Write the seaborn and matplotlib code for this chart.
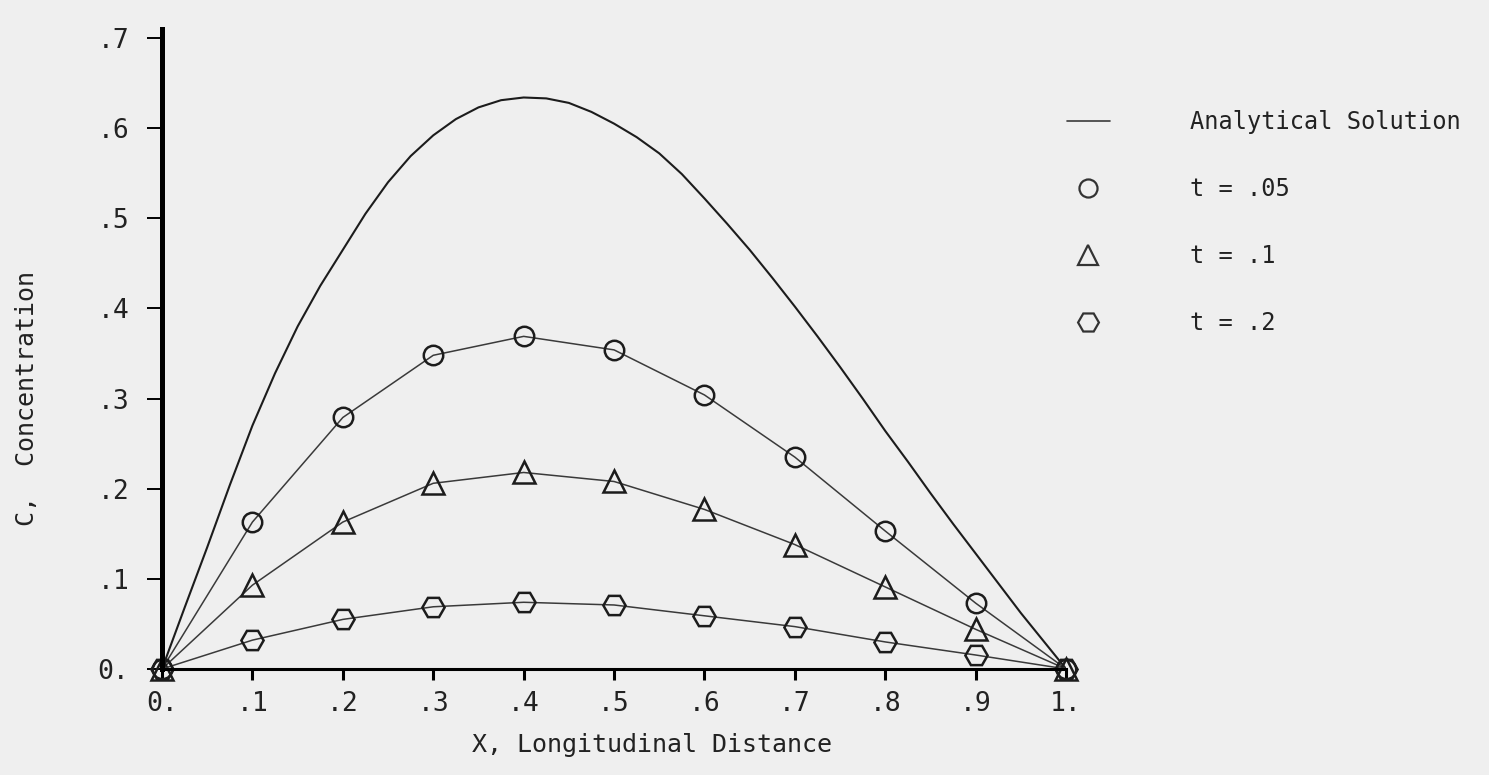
import matplotlib
matplotlib.use("Agg")
import matplotlib.pyplot as plt
from matplotlib.lines import Line2D
import seaborn as sns

# ---- data ----
x_top = [0, 0.025, 0.05, 0.075, 0.1, 0.125, 0.15, 0.175, 0.2, 0.225, 0.25, 0.275,
         0.3, 0.325, 0.35, 0.375, 0.4, 0.425, 0.45, 0.475, 0.5, 0.525, 0.55, 0.575,
         0.6, 0.625, 0.65, 0.675, 0.7, 0.725, 0.75, 0.775, 0.8, 0.825, 0.85, 0.875,
         0.9, 0.925, 0.95, 0.975, 1.0]
c_top = [0, 0.068, 0.135, 0.204, 0.27, 0.328, 0.38, 0.425, 0.465, 0.505, 0.54, 0.569,
         0.592, 0.61, 0.623, 0.631, 0.634, 0.633, 0.628, 0.618, 0.605, 0.59, 0.572, 0.549,
         0.522, 0.494, 0.465, 0.434, 0.402, 0.369, 0.335, 0.3, 0.264, 0.23, 0.195, 0.161,
         0.128, 0.095, 0.062, 0.031, 0.0]

x_pts = [0, 0.1, 0.2, 0.3, 0.4, 0.5, 0.6, 0.7, 0.8, 0.9, 1.0]
c_t005 = [0, 0.163, 0.279, 0.348, 0.369, 0.354, 0.304, 0.235, 0.153, 0.073, 0.0]
c_t01 = [0, 0.093, 0.163, 0.206, 0.218, 0.208, 0.177, 0.138, 0.091, 0.044, 0.0]
c_t02 = [0, 0.032, 0.055, 0.069, 0.074, 0.071, 0.059, 0.047, 0.030, 0.0155, 0.0]

x_ticks = [0, 0.1, 0.2, 0.3, 0.4, 0.5, 0.6, 0.7, 0.8, 0.9, 1.0]
x_ticklabels = ["0.", ".1", ".2", ".3", ".4", ".5", ".6", ".7", ".8", ".9", "1."]
y_ticks = [0, 0.1, 0.2, 0.3, 0.4, 0.5, 0.6, 0.7]
y_ticklabels = ["0.", ".1", ".2", ".3", ".4", ".5", ".6", ".7"]

series_labels = ["t = .05", "t = .1", "t = .2"]
series_markers = ["o", "^", "H"]
series_sizes = [14, 16, 16]

# ---- style ----
sns.set_theme(style="white")
BG = "#efefef"
INK = "#1c1c1c"
LINE = "#3a3a3a"
MONO = ["DejaVu Sans Mono"]
NARROW = ["Liberation Sans Narrow", "DejaVu Sans Mono"]
plt.rcParams["font.family"] = MONO

fig = plt.figure(figsize=(14.89, 7.75), dpi=100, facecolor=BG)
ax = fig.add_axes([0.1088, 0.1368, 0.6072, 0.8258])
ax.set_facecolor(BG)

sns.lineplot(x=x_top, y=c_top, ax=ax, color=INK, lw=1.5, sort=True, legend=False)
for vals, m, ms in zip([c_t005, c_t01, c_t02], series_markers, series_sizes):
    sns.lineplot(x=x_pts, y=vals, ax=ax, color=LINE, lw=1.1, marker=m,
                 markersize=ms, markerfacecolor="none", markeredgecolor=INK,
                 markeredgewidth=1.8, legend=False, clip_on=False)

ax.set_xlim(0, 1.0)
ax.set_ylim(0, 0.71)
ax.set_xticks(x_ticks)
ax.set_xticklabels(x_ticklabels, family=NARROW)
ax.set_yticks(y_ticks)
ax.set_yticklabels(y_ticklabels, family=NARROW)

for s in ["top", "right"]:
    ax.spines[s].set_visible(False)
ax.spines["left"].set_linewidth(3.6)
ax.spines["bottom"].set_linewidth(2.2)
ax.spines["left"].set_color("black")
ax.spines["bottom"].set_color("black")

ax.tick_params(axis="x", direction="out", length=8, width=2.2, pad=8,
               labelsize=19, colors="black", labelcolor="#222222", bottom=True)
ax.tick_params(axis="y", direction="out", length=10.5, width=1.4, pad=13,
               labelsize=19, colors="black", labelcolor="#222222", left=True)

ax.set_xlabel("X, Longitudinal Distance", fontsize=18, color="#222222", va="center")
ax.xaxis.set_label_coords(0.542, -0.119)
ax.set_ylabel("C,  Concentration", fontsize=18, color="#222222", va="center")
ax.yaxis.set_label_coords(-0.149, 0.423)

handles = [Line2D([], [], color=LINE, lw=1.2)]
for m, ms in zip(series_markers, series_sizes):
    handles.append(Line2D([], [], ls="none", marker=m, markersize=ms - 1,
                          markerfacecolor="none", markeredgecolor="#333333",
                          markeredgewidth=1.6))
ax.legend(handles, ["Analytical Solution"] + series_labels,
          loc="upper left", bbox_to_anchor=(1.001, 0.873), frameon=False,
          fontsize=17, borderpad=0, borderaxespad=0, labelspacing=1.82,
          handlelength=1.8, handletextpad=3.4, labelcolor="#222222")

fig.savefig("out.png", dpi=100, facecolor=BG)
